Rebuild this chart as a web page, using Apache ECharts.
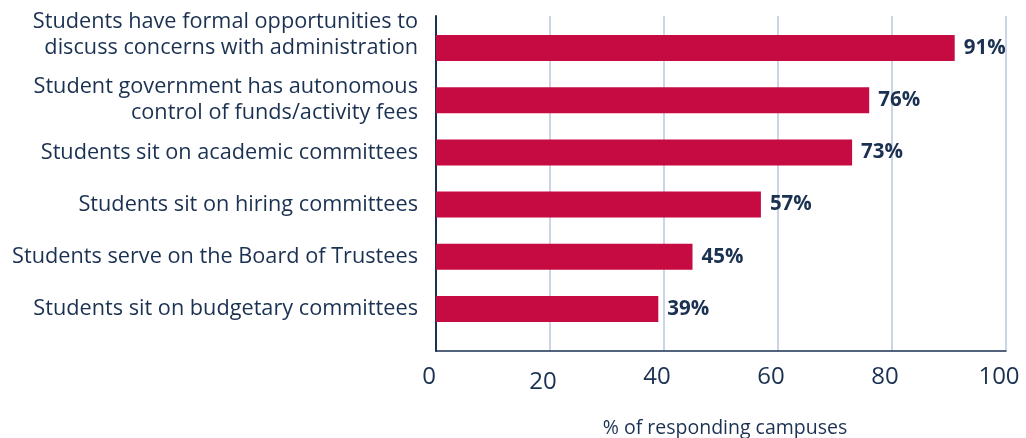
<!DOCTYPE html>
<html><head><meta charset="utf-8">
<script src="https://cdn.jsdelivr.net/npm/echarts@6/dist/echarts.min.js"></script>
<style>html,body{margin:0;padding:0;background:#fff}#c{width:1026px;height:438px}</style>
</head><body><div id="c"></div>
<script>
const categories = [
  'Students have formal opportunities to\ndiscuss concerns with administration',
  'Student government has autonomous\ncontrol of funds/activity fees',
  'Students sit on academic committees',
  'Students sit on hiring committees',
  'Students serve on the Board of Trustees',
  'Students sit on budgetary committees'
];
const values = [91, 76, 73, 57, 45, 39];
const xTicks = [0, 20, 40, 60, 80, 100];
const axisTitle = '% of responding campuses';

const navy = '#1b3152';
const font = 'Open Sans';
const chart = echarts.init(document.getElementById('c'));
chart.setOption({
  animation: false,
  grid: [
    {left: 436, right: 20, top: 22, height: 313, outerBoundsMode: 'none', containLabel: false},
    {left: 436, right: 20, top: 16, height: 335, outerBoundsMode: 'none', containLabel: false}
  ],
  xAxis: [
    {gridIndex: 0, type: 'value', min: 0, max: 100, interval: 20, show: false},
    {gridIndex: 1, type: 'value', min: xTicks[0], max: xTicks[xTicks.length-1], interval: 20,
     axisLine: {show: true, lineStyle: {color: navy, width: 1.5}},
     axisTick: {show: false},
     splitLine: {show: true, lineStyle: {color: '#b9c8dc', width: 1.5}},
     axisLabel: {color: navy, fontSize: 24, fontFamily: font, margin: 14,
       formatter: v => v === 20 ? '{low|20}' : '{n|' + v + '}',
       rich: {n: {fontSize: 24, fontFamily: font, color: navy, padding: [0,14,0,0]},
              low: {fontSize: 24, fontFamily: font, color: navy, padding: [5,14,0,0]}}},
     name: axisTitle, nameLocation: 'middle', nameGap: 67,
     nameTextStyle: {color: navy, fontSize: 19.5, fontFamily: font, padding: [0, 0, 0, 8]}}
  ],
  yAxis: [
    {gridIndex: 0, type: 'category', data: categories, inverse: true,
     axisLine: {show: false}, axisTick: {show: false},
     axisLabel: {interval: 0, hideOverlap: false, color: navy, fontSize: 21.7, fontFamily: font, margin: 18, lineHeight: 26, align: 'right',
       formatter: (v, i) => i === 0 ? v + '\n ' : v}},
    {gridIndex: 1, type: 'value', min: 0, max: 1, axisLabel: {show: false}, axisTick: {show: false},
     splitLine: {show: false}, axisLine: {show: true, lineStyle: {color: navy, width: 2}}}
  ],
  series: [{
    type: 'bar', xAxisIndex: 0, yAxisIndex: 0, data: values, barWidth: 26,
    itemStyle: {color: '#c60b42'},
    label: {show: true, position: 'right', distance: 9, formatter: '{c}%',
      color: navy, fontWeight: 'bold', fontSize: 20.5, fontFamily: font}
  }]
});
</script></body></html>
